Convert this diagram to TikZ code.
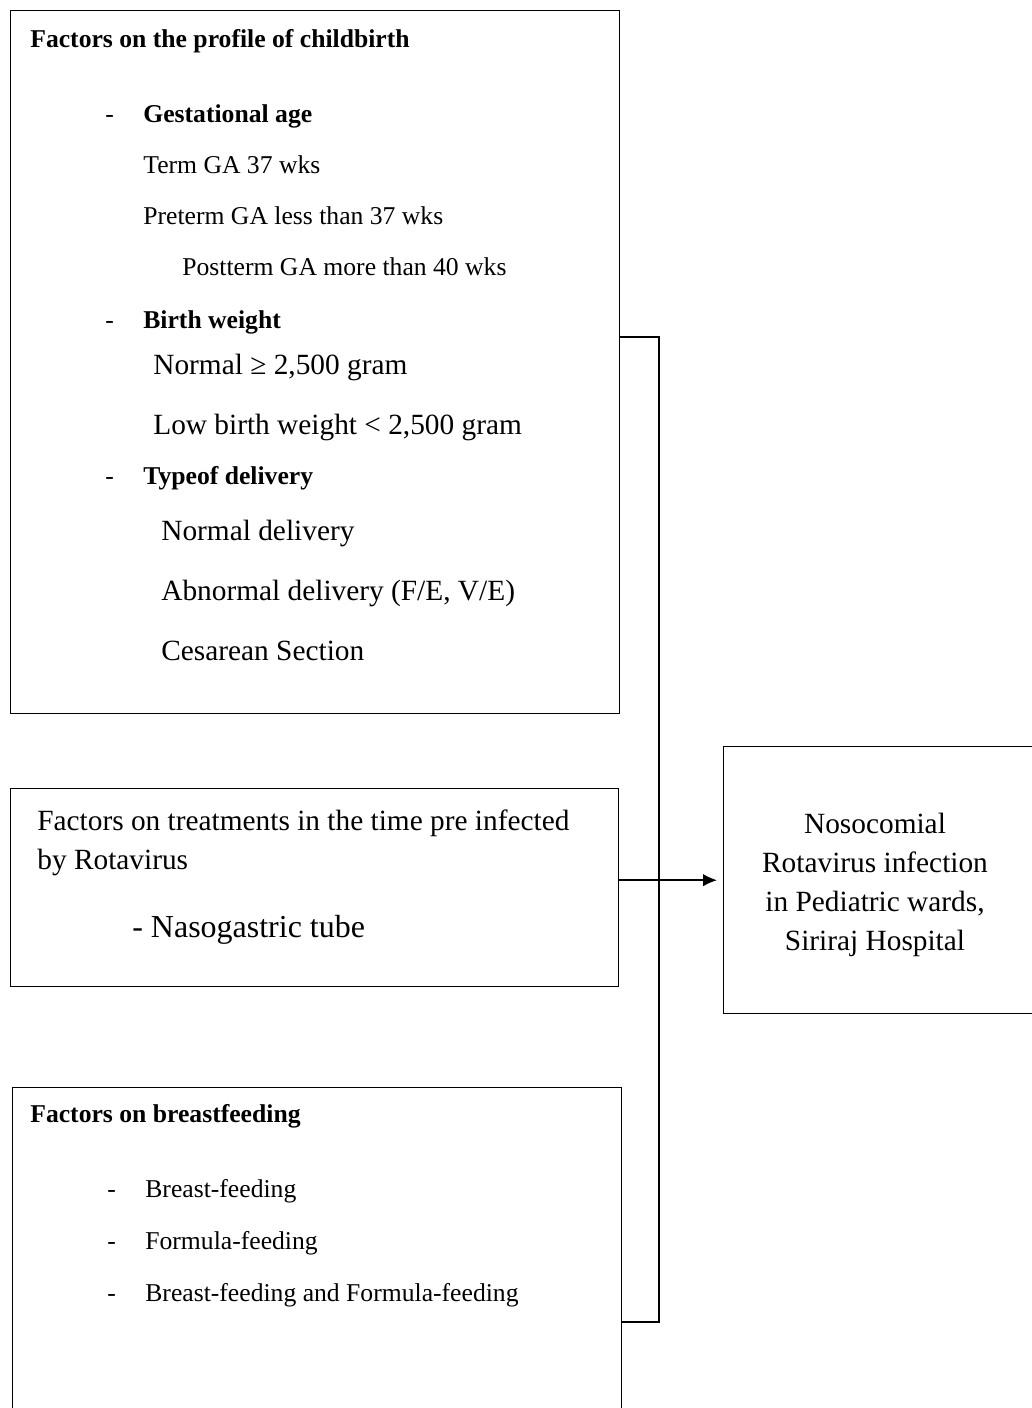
\documentclass[tikz,border=0pt]{standalone}
\usepackage{fontspec}
\setmainfont{Liberation Serif}
\usetikzlibrary{arrows.meta, positioning}

\begin{document}
\begin{tikzpicture}[
        x = 0.02cm, y = -0.02cm,
        >= {Latex[length = 0.28cm, width = 0.25cm]},
        box/.style = {draw, line width = 0.8pt, inner sep = 0pt, anchor = north west},
        small/.style = {inner sep = 0pt, anchor = base west, font = \fontsize{14.6}{17}\selectfont},
        head/.style = {small, font = \fontsize{14.6}{17}\selectfont\bfseries},
        big/.style = {inner sep = 0pt, anchor = base west, font = \fontsize{16.7}{20}\selectfont},
        link/.style = {line width = 0.8pt}
    ]

    \useasboundingbox (0,0) rectangle (1031,1408);

    % the four boxes
    \node[box, minimum width = 12.18cm, minimum height = 14.06cm] (profile) at (10,10) {};
    \node[box, minimum width = 12.16cm, minimum height = 3.96cm] (treat) at (10,788) {};
    \node[box, minimum width = 12.18cm, minimum height = 6.86cm] (feeding) at (12,1087) {};
    \node[box, minimum width = 6.26cm, minimum height = 5.34cm] (outcome) at (723,746) {};

    % profile of childbirth
    \node[head] (profiletitle) at (30,48) {Factors on the profile of childbirth};
    \node[small] (dashga) at (105,123) {-};
    \node[head] (ga) at (143,123) {Gestational age};
    \node[small] (gaterm) at (143,174) {Term GA 37 wks};
    \node[small] (gapre) at (143,225) {Preterm GA less than 37 wks};
    \node[small] (gapost) at (182,276) {Postterm GA more than 40 wks};
    \node[small] (dashbw) at (105,329) {-};
    \node[head] (bw) at (143,329) {Birth weight};
    \node[big] (bwnormal) at (153,375) {Normal ≥ 2,500 gram};
    \node[big] (bwlow) at (153,435) {Low birth weight < 2,500 gram};
    \node[small] (dashdel) at (105,484) {-};
    \node[head] (del) at (143,484) {Typeof delivery};
    \node[big] (delnormal) at (161,540) {Normal delivery};
    \node[big] (delabnormal) at (161,600) {Abnormal delivery (F/E, V/E)};
    \node[big] (delcs) at (161,660) {Cesarean Section};

    % treatments
    \node[big] (treattitle) at (37,830) {Factors on treatments in the time pre infected};
    \node[big] (treattitlecont) at (37,869) {by Rotavirus};
    \node[big, font = \fontsize{18.2}{22}\selectfont] (ngtube) at (132,937) {- Nasogastric tube};

    % breastfeeding
    \node[head] (feedingtitle) at (30,1122) {Factors on breastfeeding};
    \foreach \y/\name/\txt in {1197/bf/Breast-feeding, 1249/ff/Formula-feeding,
                               1301/bfff/Breast-feeding and Formula-feeding} {
        \node[small] (dash\name) at (107,\y) {-};
        \node[small] (\name) at (145,\y) {\txt};
    }

    % outcome
    \node[align = center, font = \fontsize{16.7}{22.2}\selectfont] (outcometext) at (875,885)
        {Nosocomial\\Rotavirus infection\\in Pediatric wards,\\Siriraj Hospital};

    \coordinate (bus) at (659,879);

    \draw[link] ([yshift = -6.54cm]profile.north east) -| (bus)
                |- ([yshift = -4.7cm]feeding.north east);
    \draw[link, ->, shorten >= 0.12cm] (treat.east |- outcome.west) -- (outcome.west);

\end{tikzpicture}
\end{document}
